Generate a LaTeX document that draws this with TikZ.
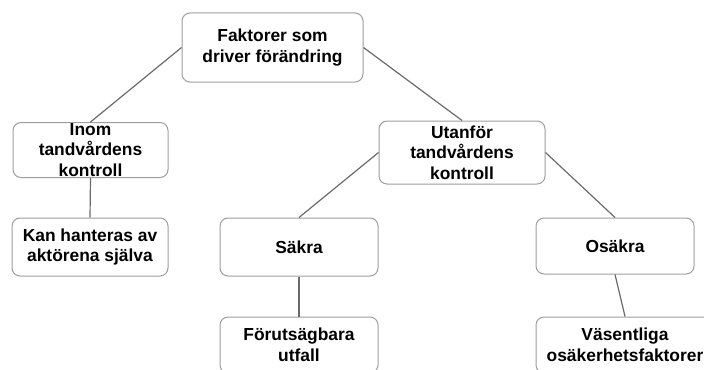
\documentclass[tikz,border=0pt]{standalone}
\usepackage{fontspec}
\setmainfont{Liberation Sans}

\newcommand{\framearea}{(0,0) rectangle (704,369)}

\begin{document}
\begin{tikzpicture}[x=0.5pt,y=-0.5pt,
		box/.style={draw=black!38,line width=0.5pt,rounded corners=4pt,fill=white,
			align=center,inner xsep=1pt,inner ysep=0pt,
			font=\bfseries\fontsize{8.7}{10.3}\selectfont},
		link/.style={draw=black!58,line width=0.6pt}]

				\useasboundingbox \framearea;
				\clip \framearea;% bottom row runs off the page

				\node[box,minimum width=90.5pt,minimum height=34.5pt] (drivers) at (272.5,47.5) {Faktorer som\\driver förändring};

				\node[box,minimum width=77.5pt,minimum height=27.5pt] (inom) at (90.5,150) {Inom\\tandvårdens\\kontroll};
				\node[box,minimum width=83pt,minimum height=31.5pt] (utanfor) at (462,152.5) {Utanför\\tandvårdens\\kontroll};

				\node[box,minimum width=78pt,minimum height=29pt] (hanteras) at (90,247) {Kan hanteras av\\aktörena själva};
				\node[box,minimum width=79pt,minimum height=29pt] (sakra) at (299,247) {Säkra};
				\node[box,minimum width=79pt,minimum height=28pt] (osakra) at (615,246) {Osäkra};

				\node[box,minimum width=79pt,minimum height=28pt] (utfall) at (299,345) {Förutsägbara\\utfall};
				\node[box,minimum width=89pt,minimum height=28pt] (osakerhet) at (625,345) {Väsentliga\\osäkerhetsfaktorer};

				\draw[link] (drivers.west) -- (inom.north);
				\draw[link] (drivers.east) -- (utanfor.north);
				\draw[link] (inom.south) -- (hanteras.north);
				\draw[link] (utanfor.west) -- (sakra.north);
				\draw[link] (utanfor.east) -- (osakra.north);
				\draw[link] (sakra.south) -- (utfall.north);
				\draw[link] (osakra.south) -- (osakerhet.north);
			\end{tikzpicture}
\end{document}
